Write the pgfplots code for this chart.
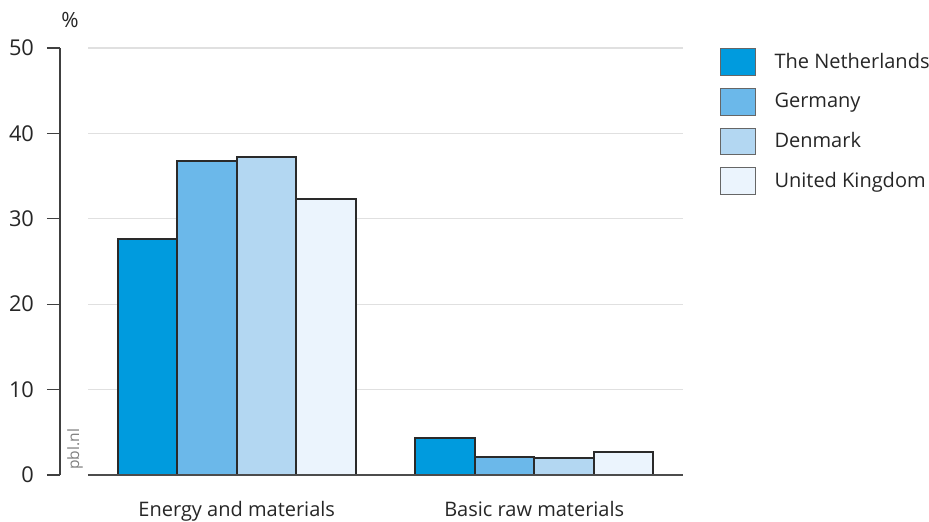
\documentclass[border=0pt]{standalone}
\usepackage{fontspec}
\setmainfont{Open Sans}
\usepackage{pgfplots}
\pgfplotsset{compat=1.18}
\definecolor{cNL}{HTML}{009BDE}
\definecolor{cDE}{HTML}{6BB8EA}
\definecolor{cDK}{HTML}{B3D7F2}
\definecolor{cUK}{HTML}{EBF4FD}
\definecolor{edge}{HTML}{2A2A2A}
\definecolor{gridc}{HTML}{E0E0E0}
\begin{document}
\begin{tikzpicture}
\useasboundingbox (-30pt,-23.5pt) rectangle (434.5pt,237.5pt);
\begin{axis}[
  scale only axis,
  width=311.5pt, height=213.5pt,
  xmin=-0.594, xmax=1.5, ymin=0, ymax=50,
  ybar=0pt, bar width=0.2,
  axis y line=left, axis x line=bottom,
  axis line style={-, draw=black!75, line width=0.6pt},
  x axis line style={draw=none},
  xtick={0,1}, xticklabels={Energy and materials, Basic raw materials},
  x tick style={draw=none},
  xticklabel style={yshift=-3pt, font=\fontsize{10}{12}\selectfont, text=black!85},
  ytick={0,10,20,30,40,50},
  tick align=outside, major tick length=6.5pt,
  y tick style={draw=black!75, line width=0.6pt},
  yticklabel style={font=\fontsize{10.9}{12}\selectfont, text=black!85, xshift=-3pt},
  /pgf/number format/assume math mode=true,
  legend style={at={(axis description cs:1.058,1.0)}, anchor=north west, draw=none, fill=none,
    font=\fontsize{10}{12}\selectfont, text=black!85, row sep=5.9pt, column sep=7.5pt, inner sep=0pt},
  legend cell align=left,
  legend image code/.code={\draw[#1, draw=black!60, line width=0.5pt] (0pt,-6.7pt) rectangle (17.5pt,6.7pt);},
  clip=false,
]
\foreach \v in {10,20,30,40,50}{
  \edef\tmp{\noexpand\draw[gridc, line width=0.6pt] (axis cs:-0.5,\v) -- (axis cs:1.5,\v);}\tmp
}
\addplot[fill=cNL, draw=edge, line width=0.9pt] coordinates {(0,27.6) (1,4.3)};
\addplot[fill=cDE, draw=edge, line width=0.9pt] coordinates {(0,36.8) (1,2.1)};
\addplot[fill=cDK, draw=edge, line width=0.9pt] coordinates {(0,37.2) (1,2.0)};
\addplot[fill=cUK, draw=edge, line width=0.9pt] coordinates {(0,32.3) (1,2.7)};
\legend{The Netherlands, Germany, Denmark, United Kingdom}
\draw[black!70, line width=0.7pt] (axis cs:-0.5,0) -- (axis cs:1.5,0);
\node[anchor=base, font=\fontsize{10.5}{12}\selectfont, text=black!85] at ([xshift=5pt, yshift=10pt]rel axis cs:0,1) {\%};
\node[rotate=90, anchor=west, font=\fontsize{7.8}{9}\selectfont, text=black!50, inner sep=0pt] at ([xshift=7.5pt, yshift=2.5pt]rel axis cs:0,0) {pbl.nl};
\end{axis}
\end{tikzpicture}
\end{document}
